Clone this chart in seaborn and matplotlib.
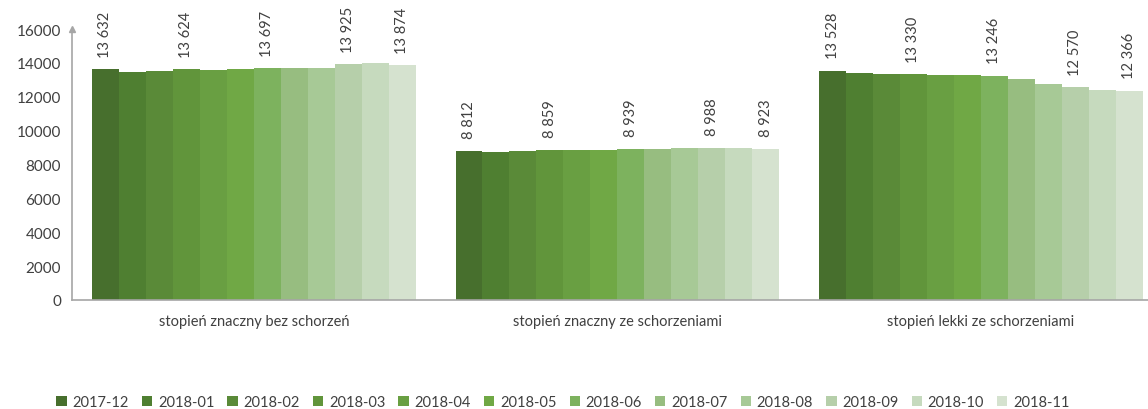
import pandas as pd
import numpy as np
import matplotlib.pyplot as plt
import seaborn as sns

# kategorie i miesiace
categories = ['stopień znaczny bez schorzeń', 'stopień znaczny ze schorzeniami', 'stopień lekki ze schorzeniami']
months = ['2017-12', '2018-01', '2018-02', '2018-03', '2018-04', '2018-05',
          '2018-06', '2018-07', '2018-08', '2018-09', '2018-10', '2018-11']

# wartosci dla kazdej kategorii
znaczny_bez = [13632, 13435, 13530, 13624, 13570, 13610, 13697, 13700, 13705, 13925, 14010, 13874]
znaczny_ze = [8812, 8740, 8820, 8859, 8830, 8835, 8939, 8930, 8960, 8988, 8990, 8923]
lekki_ze = [13528, 13380, 13340, 13330, 13290, 13270, 13246, 13050, 12760, 12570, 12380, 12366]

colors = ['#476F2D', '#4F7F31', '#5A8A38', '#61953B', '#699F42', '#70A845',
          '#7DB25E', '#97BD80', '#A7C996', '#B6CFAA', '#C6DABE', '#D5E2CF']
labelled = [0, 3, 6, 9, 11]

rows = []
for cat, vals in zip(categories, [znaczny_bez, znaczny_ze, lekki_ze]):
    for m, v in zip(months, vals):
        rows.append({'kategoria': cat, 'miesiac': m, 'liczba': v})
df = pd.DataFrame(rows)

sns.set_style('white')
plt.rcParams['font.family'] = ['Lato', 'DejaVu Sans']
txt = '#404040'

fig = plt.figure(figsize=(11.48, 4.10), dpi=100)
ax = fig.add_axes([72 / 1148, 109 / 410, 1 - 72 / 1148, 271 / 410])

sns.barplot(data=df, x='kategoria', y='liczba', hue='miesiac', order=categories,
            hue_order=months, palette=colors, width=0.89, linewidth=0,
            saturation=1, ax=ax, legend=True)

for i, cont in enumerate(ax.containers):
    if i in labelled:
        labs = [f"{v:,.0f}".replace(',', ' ') for v in cont.datavalues]
    else:
        labs = ['' for v in cont.datavalues]
    ax.bar_label(cont, labels=labs, rotation=90, padding=9, fontsize=10.5, color=txt)

ax.set_ylim(0, 16000)
ax.set_xlim(-0.5, 2.46)
ax.set_yticks(range(0, 16001, 2000))
ax.tick_params(axis='y', length=0, labelsize=11, labelcolor=txt, pad=8)
ax.tick_params(axis='x', length=0, labelsize=10.5, labelcolor=txt, pad=10)
ax.set_xlabel('')
ax.set_ylabel('')
sns.despine(ax=ax)
for s in ['left', 'bottom']:
    ax.spines[s].set_color('#A6A6A6')
    ax.spines[s].set_linewidth(1.2)
ax.plot(0, 1, marker='^', markersize=5, color='#A6A6A6', transform=ax.transAxes, clip_on=False)

handles, labels = ax.get_legend_handles_labels()
ax.get_legend().remove()
fig.legend(handles, labels, loc='center', bbox_to_anchor=(563 / 1148, 7 / 410), ncol=12,
           frameon=False, handlelength=0.7, handleheight=0.7, handletextpad=0.4,
           columnspacing=0.9, fontsize=10.5, labelcolor=txt)

fig.savefig('out.png', dpi=100)
